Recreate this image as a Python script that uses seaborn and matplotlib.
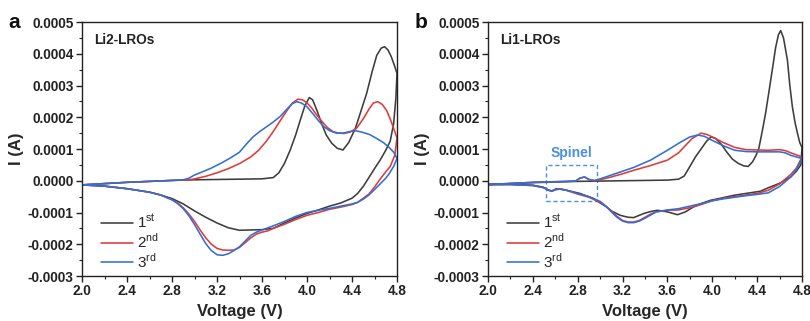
import numpy as np
import pandas as pd
import matplotlib
matplotlib.use("Agg")
import matplotlib.pyplot as plt
import matplotlib.ticker as mticker
from matplotlib.patches import Rectangle
import seaborn as sns

# ---------------- data (current in units of 1e-4 A) ----------------
# Panel a: Li2-LROs
a1_v = [2.0, 2.2, 2.4, 2.6, 2.8, 3.0, 3.2, 3.4, 3.6, 3.7, 3.75, 3.8, 3.85, 3.9, 3.94, 3.98, 4.02, 4.05, 4.09,
        4.13, 4.17, 4.22, 4.27, 4.32, 4.37, 4.43, 4.48, 4.53, 4.58, 4.62, 4.66, 4.69, 4.72, 4.75, 4.78, 4.8,
        4.79, 4.77, 4.74, 4.7, 4.65, 4.6, 4.55, 4.5, 4.45, 4.4, 4.3, 4.2, 4.1, 4.0, 3.9, 3.8, 3.7, 3.6, 3.5,
        3.4, 3.3, 3.2, 3.1, 3.0, 2.9, 2.8, 2.7, 2.6, 2.4, 2.2, 2.0]
a1_i = [-0.13, -0.09, -0.05, -0.02, 0.01, 0.03, 0.04, 0.05, 0.06, 0.10, 0.25, 0.55, 0.96, 1.45, 1.91, 2.35, 2.62,
        2.55, 2.2, 1.8, 1.45, 1.18, 1.02, 0.97, 1.2, 1.65, 2.2, 2.75, 3.45, 3.95, 4.18, 4.22, 4.12, 3.9, 3.6, 3.38,
        2.6, 1.8, 1.25, 0.96, 0.65, 0.38, 0.1, -0.18, -0.4, -0.55, -0.7, -0.8, -0.92, -1.03, -1.17, -1.33, -1.5,
        -1.54, -1.55, -1.56, -1.48, -1.33, -1.15, -0.95, -0.73, -0.56, -0.45, -0.36, -0.25, -0.17, -0.13]

a2_v = [2.0, 2.4, 2.8, 2.95, 3.0, 3.1, 3.2, 3.3, 3.4, 3.5, 3.57, 3.64, 3.7, 3.76, 3.82, 3.87, 3.92, 3.96, 4.0,
        4.04, 4.08, 4.13, 4.18, 4.23, 4.28, 4.33, 4.38, 4.44, 4.5, 4.55, 4.59, 4.63, 4.67, 4.71, 4.75, 4.78, 4.8,
        4.78, 4.74, 4.7, 4.65, 4.6, 4.55, 4.5, 4.45, 4.4, 4.3, 4.2, 4.1, 4.0, 3.9, 3.8, 3.7, 3.65, 3.6, 3.55, 3.5,
        3.45, 3.4, 3.35, 3.3, 3.25, 3.2, 3.15, 3.1, 3.05, 3.0, 2.95, 2.9, 2.85, 2.8, 2.7, 2.6, 2.4, 2.2, 2.0]
a2_i = [-0.13, -0.05, 0.01, 0.03, 0.06, 0.14, 0.25, 0.38, 0.54, 0.75, 0.96, 1.25, 1.55, 1.88, 2.2, 2.45, 2.57, 2.55,
        2.45, 2.3, 2.1, 1.88, 1.68, 1.55, 1.5, 1.49, 1.53, 1.65, 1.95, 2.25, 2.45, 2.49, 2.4, 2.2, 1.85, 1.55, 1.35,
        0.8, 0.45, 0.28, 0.05, -0.2, -0.42, -0.55, -0.68, -0.75, -0.83, -0.9, -1.0, -1.09, -1.22, -1.37, -1.5, -1.58,
        -1.62, -1.68, -1.8, -1.95, -2.1, -2.18, -2.19, -2.18, -2.13, -2.0, -1.8, -1.55, -1.28, -1.05, -0.85, -0.7,
        -0.6, -0.45, -0.36, -0.25, -0.17, -0.13]

a3_v = [2.0, 2.4, 2.8, 2.9, 2.95, 3.0, 3.07, 3.15, 3.24, 3.32, 3.4, 3.46, 3.52, 3.58, 3.64, 3.7, 3.76, 3.82, 3.87,
        3.91, 3.95, 4.0, 4.05, 4.1, 4.15, 4.2, 4.26, 4.32, 4.38, 4.44, 4.5, 4.56, 4.62, 4.68, 4.73, 4.77, 4.8,
        4.77, 4.73, 4.7, 4.65, 4.6, 4.55, 4.5, 4.45, 4.4, 4.3, 4.2, 4.1, 4.0, 3.9, 3.8, 3.7, 3.6, 3.55, 3.5, 3.45,
        3.4, 3.35, 3.3, 3.25, 3.2, 3.15, 3.1, 3.05, 3.0, 2.95, 2.9, 2.85, 2.8, 2.7, 2.6, 2.4, 2.2, 2.0]
a3_i = [-0.13, -0.05, 0.01, 0.03, 0.08, 0.18, 0.28, 0.4, 0.56, 0.72, 0.9, 1.15, 1.38, 1.55, 1.7, 1.85, 2.02, 2.25,
        2.43, 2.49, 2.45, 2.33, 2.12, 1.9, 1.7, 1.58, 1.5, 1.5, 1.55, 1.57, 1.52, 1.45, 1.33, 1.2, 1.05, 0.9, 0.7,
        0.45, 0.22, 0.08, -0.1, -0.28, -0.45, -0.58, -0.68, -0.73, -0.8, -0.87, -0.93, -1.0, -1.12, -1.28, -1.42,
        -1.55, -1.62, -1.72, -1.9, -2.08, -2.2, -2.3, -2.35, -2.33, -2.2, -1.98, -1.68, -1.38, -1.1, -0.88, -0.72,
        -0.6, -0.45, -0.36, -0.25, -0.17, -0.13]

# Panel b: Li1-LROs
b1_v = [2.0, 2.4, 2.8, 3.2, 3.6, 3.7, 3.75, 3.8, 3.85, 3.9, 3.95, 3.99, 4.03, 4.08, 4.13, 4.18, 4.23, 4.28, 4.32,
        4.36, 4.39, 4.415, 4.445, 4.475, 4.505, 4.535, 4.565, 4.59, 4.61, 4.635, 4.67, 4.69, 4.714, 4.74, 4.76,
        4.78, 4.8, 4.79, 4.75, 4.7, 4.6, 4.5, 4.43, 4.3, 4.19, 4.1, 3.98, 3.9, 3.83, 3.76, 3.69, 3.6, 3.51, 3.45,
        3.39, 3.3, 3.25, 3.18, 3.1, 3.06, 3.0, 2.94, 2.82, 2.7, 2.61, 2.57, 2.53, 2.49, 2.4, 2.2, 2.0]
b1_i = [-0.12, -0.06, -0.02, 0.0, 0.02, 0.05, 0.15, 0.45, 0.75, 1.0, 1.25, 1.38, 1.33, 1.15, 0.9, 0.68, 0.55, 0.47,
        0.45, 0.6, 0.8, 1.02, 1.55, 2.12, 2.8, 3.49, 4.2, 4.6, 4.73, 4.5, 3.8, 3.05, 2.33, 1.8, 1.49, 1.2, 1.05,
        0.5, 0.3, 0.12, -0.08, -0.22, -0.33, -0.4, -0.46, -0.53, -0.62, -0.72, -0.83, -0.98, -1.07, -0.98, -0.93,
        -0.97, -1.03, -1.16, -1.15, -1.09, -0.95, -0.83, -0.7, -0.56, -0.4, -0.3, -0.25, -0.32, -0.28, -0.2, -0.14,
        -0.11, -0.12]

b2_v = [2.0, 2.4, 2.7, 2.78, 2.82, 2.86, 2.9, 2.95, 3.0, 3.1, 3.2, 3.3, 3.45, 3.6, 3.7, 3.75, 3.82, 3.9, 3.95,
        4.0, 4.1, 4.2, 4.3, 4.4, 4.5, 4.6, 4.65, 4.7, 4.8, 4.75, 4.7, 4.6, 4.5, 4.4, 4.3, 4.2, 4.1, 4.0, 3.9, 3.8,
        3.7, 3.6, 3.5, 3.45, 3.4, 3.35, 3.3, 3.25, 3.2, 3.15, 3.1, 3.05, 3.0, 2.9, 2.8, 2.7, 2.65, 2.6, 2.57, 2.54,
        2.5, 2.4, 2.2, 2.0]
b2_i = [-0.12, -0.05, -0.02, -0.01, 0.08, 0.12, 0.04, 0.0, 0.03, 0.12, 0.22, 0.33, 0.48, 0.65, 0.88, 1.07, 1.33,
        1.5, 1.46, 1.38, 1.2, 1.05, 0.98, 0.97, 0.96, 0.98, 0.95, 0.88, 0.75, 0.4, 0.2, -0.1, -0.3, -0.4, -0.45,
        -0.5, -0.55, -0.63, -0.75, -0.85, -0.92, -0.93, -0.98, -1.05, -1.15, -1.25, -1.3, -1.3, -1.25, -1.12, -0.95,
        -0.8, -0.68, -0.52, -0.42, -0.3, -0.26, -0.28, -0.33, -0.3, -0.22, -0.15, -0.12, -0.12]

b3_v = [2.0, 2.4, 2.7, 2.78, 2.82, 2.86, 2.9, 2.95, 3.0, 3.1, 3.2, 3.3, 3.45, 3.6, 3.7, 3.8, 3.87, 3.93, 4.0,
        4.1, 4.2, 4.3, 4.4, 4.5, 4.6, 4.65, 4.7, 4.8, 4.75, 4.7, 4.6, 4.5, 4.4, 4.3, 4.2, 4.1, 4.0, 3.9, 3.8, 3.7,
        3.6, 3.5, 3.45, 3.4, 3.35, 3.3, 3.25, 3.2, 3.15, 3.1, 3.05, 3.0, 2.9, 2.8, 2.7, 2.65, 2.6, 2.57, 2.54, 2.5,
        2.4, 2.2, 2.0]
b3_i = [-0.12, -0.05, -0.02, -0.01, 0.08, 0.12, 0.04, 0.01, 0.06, 0.18, 0.3, 0.42, 0.65, 0.96, 1.18, 1.38, 1.44,
        1.4, 1.27, 1.1, 0.96, 0.92, 0.91, 0.91, 0.91, 0.88, 0.8, 0.7, 0.35, 0.12, -0.18, -0.38, -0.43, -0.47, -0.52,
        -0.57, -0.63, -0.72, -0.8, -0.88, -0.92, -0.98, -1.08, -1.18, -1.27, -1.32, -1.32, -1.27, -1.15, -0.98, -0.8,
        -0.65, -0.5, -0.4, -0.3, -0.26, -0.28, -0.33, -0.3, -0.22, -0.15, -0.12, -0.12]

cycle_labels = ["1st", "2nd", "3rd"]
legend_texts = [r"1$^{\mathrm{st}}$", r"2$^{\mathrm{nd}}$", r"3$^{\mathrm{rd}}$"]
panel_titles = ["Li2-LROs", "Li1-LROs"]
panel_letters = ["a", "b"]
x_ticks = [2.0, 2.4, 2.8, 3.2, 3.6, 4.0, 4.4, 4.8]
y_ticks = [-0.0003, -0.0002, -0.0001, 0.0, 0.0001, 0.0002, 0.0003, 0.0004, 0.0005]
spinel_box = (2.52, -0.64e-4, 2.97, 0.51e-4)  # V0, I0, V1, I1

colors = {"1st": "#3d3d3d", "2nd": "#e03a3a", "3rd": "#2f6fd6"}


def build(curves):
    frames = []
    for lab, (v, i) in zip(cycle_labels, curves):
        frames.append(pd.DataFrame({"V": v, "I": np.array(i) * 1e-4, "cycle": lab, "k": np.arange(len(v))}))
    return pd.concat(frames, ignore_index=True)


df_a = build([(a1_v, a1_i), (a2_v, a2_i), (a3_v, a3_i)])
df_b = build([(b1_v, b1_i), (b2_v, b2_i), (b3_v, b3_i)])

sns.set_theme(style="ticks")
plt.rcParams["font.family"] = ["Liberation Sans", "DejaVu Sans"]
plt.rcParams["mathtext.fontset"] = "custom"
plt.rcParams["mathtext.rm"] = "Liberation Sans"

fig = plt.figure(figsize=(8.1, 3.21), dpi=100)
ax_a = fig.add_axes([82 / 810, 45 / 321, 315 / 810, 254 / 321])
ax_b = fig.add_axes([488 / 810, 45 / 321, 314 / 810, 254 / 321])

for ax, df, title, letter in [(ax_a, df_a, panel_titles[0], panel_letters[0]),
                              (ax_b, df_b, panel_titles[1], panel_letters[1])]:
    sns.lineplot(data=df, x="V", y="I", hue="cycle", palette=colors, sort=False, estimator=None,
                 units="cycle", linewidth=1.15, ax=ax, legend=True)
    ax.set_xlim(2.0, 4.8)
    ax.set_ylim(-0.0003, 0.0005)
    ax.set_xticks(x_ticks)
    ax.set_yticks(y_ticks)
    ax.xaxis.set_minor_locator(mticker.MultipleLocator(0.2))
    ax.yaxis.set_minor_locator(mticker.MultipleLocator(0.00005))
    ax.xaxis.set_major_formatter(mticker.FormatStrFormatter("%.1f"))
    ax.yaxis.set_major_formatter(mticker.FormatStrFormatter("%.4f"))
    ax.tick_params(which="major", direction="out", length=4, width=1, colors="#222222",
                   labelsize=9.8, pad=2)
    ax.tick_params(which="minor", direction="out", length=2.5, width=0.8, colors="#222222")
    for lab in ax.get_xticklabels() + ax.get_yticklabels():
        lab.set_fontweight("bold")
    for s in ax.spines.values():
        s.set_linewidth(1.0)
        s.set_color("#222222")
        s.set_visible(True)
    ax.set_xlabel("Voltage (V)", fontsize=12, fontweight="bold", labelpad=4)
    ax.set_ylabel("I (A)", fontsize=12, fontweight="bold", labelpad=3)
    ax.text(0.04, 0.93, title, transform=ax.transAxes, fontsize=9.8, fontweight="bold",
            ha="left", va="center", color="#222222")
    ax.text(-0.235, 1.0, letter, transform=ax.transAxes, fontsize=15, fontweight="bold",
            ha="left", va="center", color="#111111")
    handles, _ = ax.get_legend_handles_labels()
    ax.legend(handles[:3], legend_texts, loc="center left", bbox_to_anchor=(0.04, 0.135),
              frameon=False, fontsize=11, handlelength=2.1, handletextpad=0.25, labelspacing=0.05,
              borderaxespad=0.0)

# Spinel annotation on panel b
v0, i0, v1, i1 = spinel_box
ax_b.add_patch(Rectangle((v0, i0), v1 - v0, i1 - i0, fill=False, edgecolor="#4a8fe0",
                         linestyle=(0, (3, 2)), linewidth=1.0))
ax_b.text((v0 + v1) / 2, i1 + 0.37e-4, "Spinel", color="#4a8fe0", fontsize=10, fontweight="bold",
          ha="center", va="center")

fig.savefig("out.png", dpi=100)
